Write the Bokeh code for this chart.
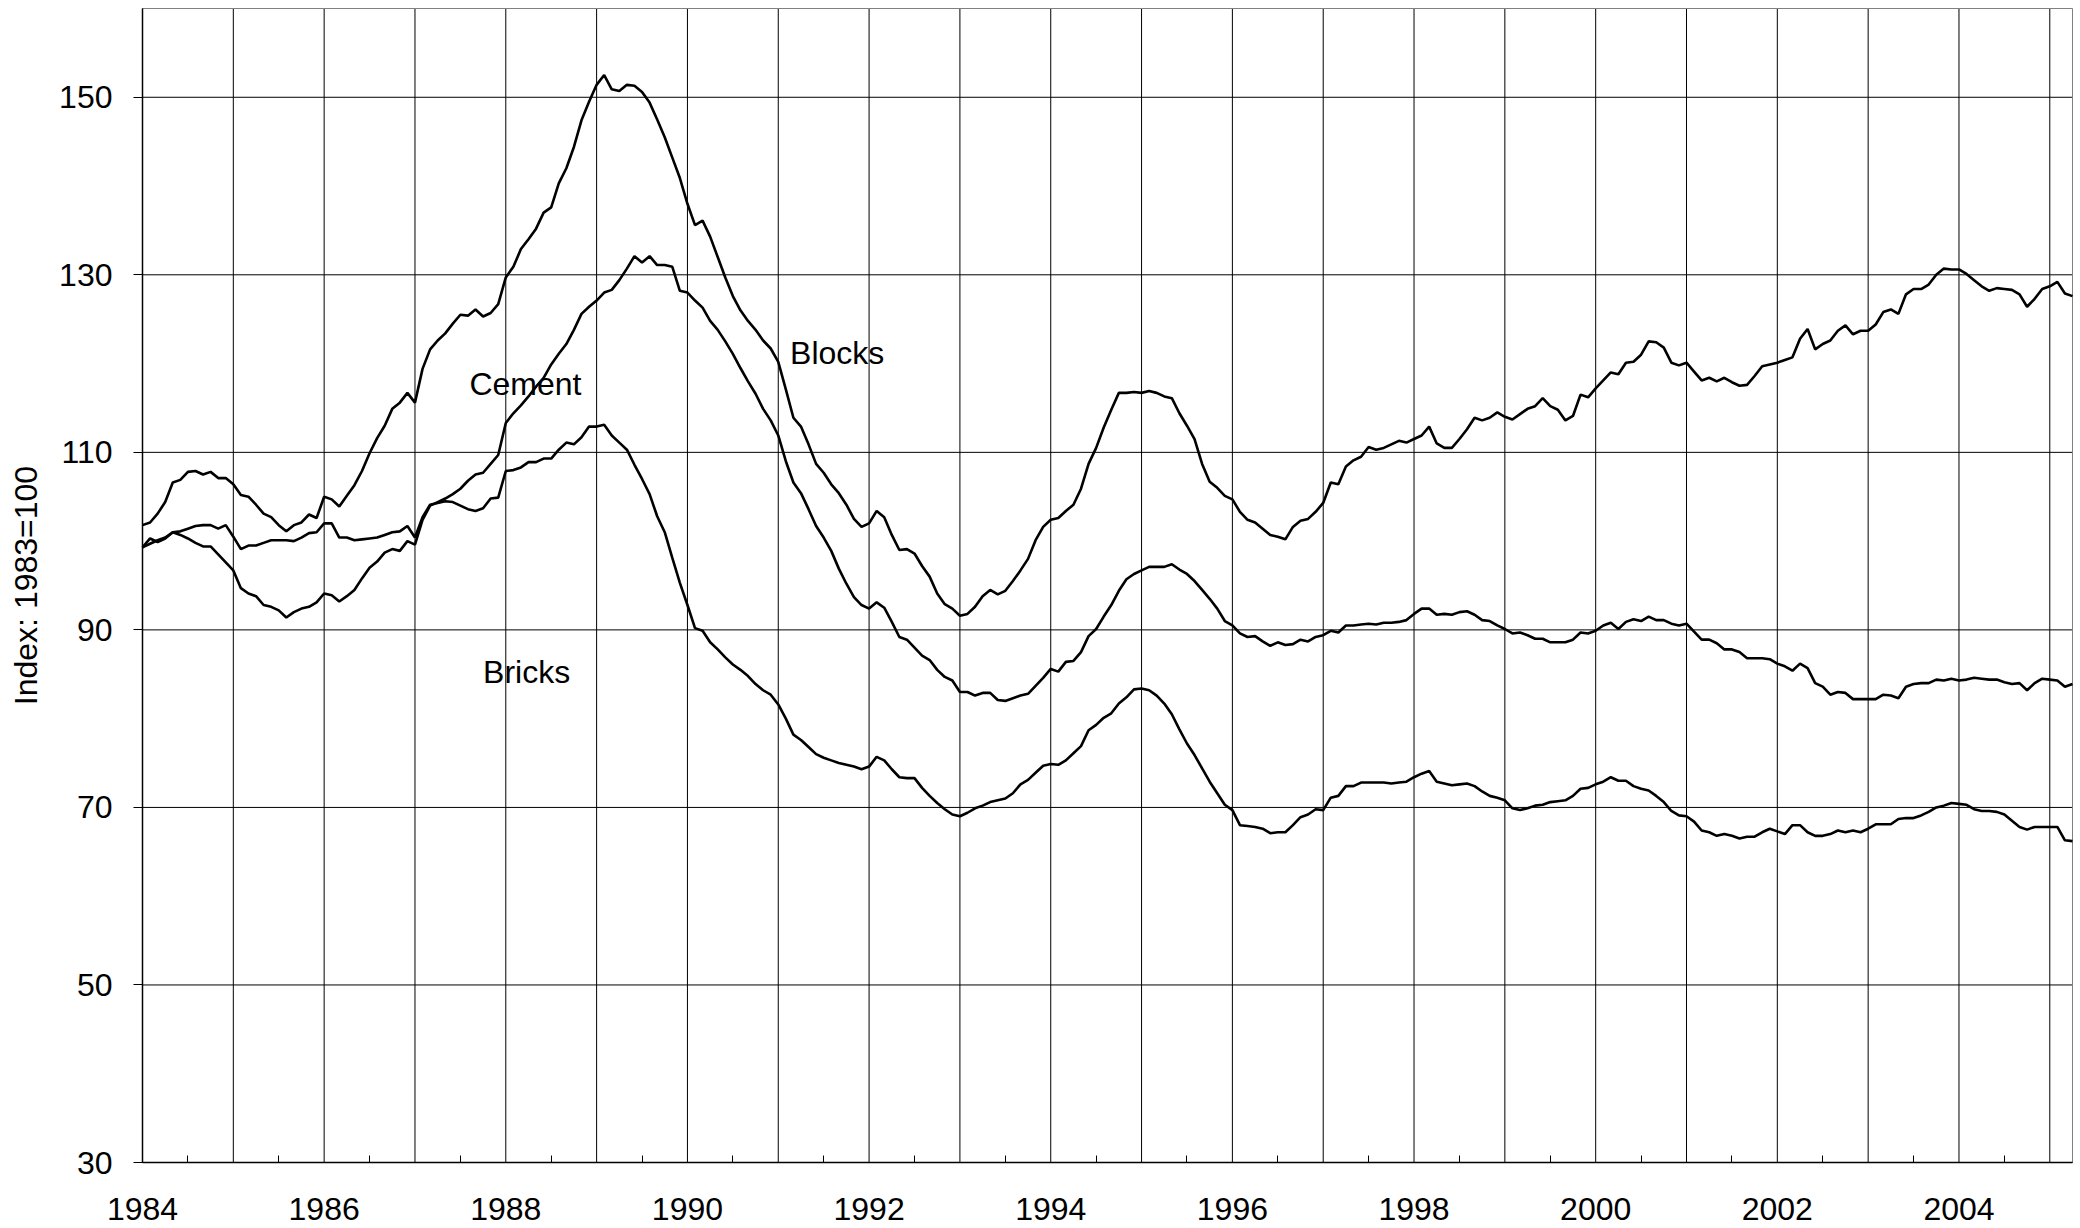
from bokeh.plotting import figure
from bokeh.models import FixedTicker, Range1d, Label
from bokeh.embed import file_html
from bokeh.resources import INLINE

# ---------------- data (monthly, Jan 1984 - Apr 2005) ----------------
start_year = 1984

blocks = [
    101.8, 102.1, 103.1, 104.4, 106.6, 106.9, 107.8, 107.9, 107.5, 107.8, 107.1, 107.1,
    106.4, 105.2, 105.0, 104.1, 103.1, 102.7, 101.8, 101.1, 101.8, 102.1, 103.0, 102.6,
    105.0, 104.7, 103.9, 105.1, 106.3, 107.9, 109.9, 111.6, 113.0, 114.9, 115.6, 116.7,
    115.6, 119.4, 121.6, 122.6, 123.4, 124.5, 125.5, 125.4, 126.1, 125.3, 125.7, 126.7,
    129.7, 130.9, 132.9, 134.0, 135.2, 137.0, 137.6, 140.3, 142.0, 144.4, 147.4, 149.5,
    151.4, 152.5, 150.9, 150.7, 151.4, 151.3, 150.6, 149.4, 147.5, 145.5, 143.2, 140.9,
    138.0, 135.6, 136.1, 134.3, 132.0, 129.7, 127.6, 126.0, 124.8, 123.8, 122.6, 121.7,
    120.2, 117.1, 113.9, 112.9, 110.9, 108.7, 107.7, 106.4, 105.4, 104.1, 102.5, 101.6,
    102.0, 103.4, 102.7, 100.7, 99.0, 99.1, 98.6, 97.2, 96.0, 94.1, 92.9, 92.4,
    91.6, 91.8, 92.6, 93.8, 94.5, 94.0, 94.4, 95.5, 96.7, 98.0, 100.1, 101.6,
    102.4, 102.6, 103.4, 104.1, 105.9, 108.7, 110.5, 112.8, 114.8, 116.7, 116.7, 116.8,
    116.7, 116.9, 116.7, 116.3, 116.1, 114.4, 113.0, 111.5, 108.7, 106.7, 106.0, 105.1,
    104.7, 103.3, 102.4, 102.1, 101.4, 100.7, 100.5, 100.2, 101.6, 102.3, 102.5, 103.3,
    104.3, 106.6, 106.4, 108.4, 109.1, 109.5, 110.6, 110.3, 110.5, 110.9, 111.3, 111.1,
    111.5, 111.9, 112.9, 111.0, 110.5, 110.5, 111.5, 112.6, 113.9, 113.6, 113.9, 114.5,
    114.0, 113.7, 114.3, 114.9, 115.2, 116.1, 115.2, 114.8, 113.6, 114.1, 116.5, 116.2,
    117.2, 118.1, 119.0, 118.8, 120.1, 120.2, 121.0, 122.5, 122.4, 121.8, 120.1, 119.8,
    120.1, 119.1, 118.1, 118.4, 118.0, 118.4, 117.9, 117.5, 117.6, 118.6, 119.7, 119.9,
    120.1, 120.4, 120.7, 122.8, 123.9, 121.6, 122.2, 122.6, 123.7, 124.3, 123.3, 123.7,
    123.7, 124.4, 125.8, 126.1, 125.6, 127.8, 128.4, 128.4, 128.9, 130.0, 130.7, 130.6,
    130.6, 130.1, 129.4, 128.7, 128.2, 128.5, 128.4, 128.3, 127.8, 126.4, 127.3, 128.4,
    128.7, 129.2, 127.9, 127.6,
]

cement = [
    99.3, 99.7, 100.1, 100.4, 101.0, 100.7, 100.3, 99.8, 99.4, 99.4, 98.5, 97.6,
    96.7, 94.7, 94.1, 93.8, 92.8, 92.6, 92.2, 91.4, 92.0, 92.4, 92.6, 93.1,
    94.1, 93.9, 93.2, 93.8, 94.5, 95.8, 97.0, 97.7, 98.7, 99.1, 98.9, 100.0,
    99.6, 102.4, 104.0, 104.4, 104.8, 105.3, 105.9, 106.8, 107.5, 107.7, 108.7, 109.7,
    113.3, 114.4, 115.3, 116.3, 117.4, 118.4, 119.9, 121.1, 122.2, 123.8, 125.6, 126.4,
    127.1, 128.0, 128.3, 129.4, 130.7, 132.1, 131.4, 132.1, 131.1, 131.1, 130.9, 128.2,
    128.0, 127.1, 126.3, 124.8, 123.8, 122.5, 121.1, 119.5, 118.0, 116.6, 114.9, 113.6,
    111.9, 109.0, 106.6, 105.4, 103.6, 101.7, 100.4, 98.9, 96.9, 95.2, 93.7, 92.8,
    92.4, 93.1, 92.5, 90.9, 89.2, 88.9, 88.0, 87.1, 86.6, 85.5, 84.7, 84.3,
    83.0, 83.0, 82.6, 82.9, 82.9, 82.1, 82.0, 82.3, 82.6, 82.8, 83.7, 84.6,
    85.6, 85.3, 86.4, 86.5, 87.5, 89.3, 90.1, 91.5, 92.8, 94.4, 95.7, 96.3,
    96.7, 97.1, 97.1, 97.1, 97.4, 96.8, 96.3, 95.5, 94.5, 93.5, 92.4, 91.0,
    90.5, 89.6, 89.2, 89.3, 88.7, 88.2, 88.6, 88.3, 88.4, 88.9, 88.7, 89.2,
    89.4, 89.9, 89.7, 90.5, 90.5, 90.6, 90.7, 90.6, 90.8, 90.8, 90.9, 91.1,
    91.8, 92.4, 92.4, 91.7, 91.8, 91.7, 92.0, 92.1, 91.7, 91.1, 91.0, 90.5,
    90.1, 89.6, 89.7, 89.4, 89.0, 89.0, 88.6, 88.6, 88.6, 88.9, 89.7, 89.6,
    89.9, 90.5, 90.8, 90.1, 90.9, 91.2, 91.0, 91.5, 91.1, 91.1, 90.7, 90.5,
    90.7, 89.8, 88.9, 88.9, 88.5, 87.8, 87.8, 87.5, 86.8, 86.8, 86.8, 86.7,
    86.2, 85.9, 85.4, 86.2, 85.7, 84.0, 83.6, 82.7, 83.0, 82.9, 82.2, 82.2,
    82.2, 82.2, 82.7, 82.6, 82.3, 83.6, 83.9, 84.0, 84.0, 84.4, 84.3, 84.5,
    84.3, 84.4, 84.6, 84.5, 84.4, 84.4, 84.1, 83.9, 84.0, 83.2, 84.0, 84.5,
    84.4, 84.3, 83.6, 83.9,
]

bricks = [
    99.3, 100.3, 99.9, 100.3, 101.0, 101.1, 101.4, 101.7, 101.8, 101.8, 101.4, 101.8,
    100.5, 99.1, 99.5, 99.5, 99.8, 100.1, 100.1, 100.1, 100.0, 100.4, 100.9, 101.0,
    102.0, 102.0, 100.4, 100.4, 100.1, 100.2, 100.3, 100.4, 100.7, 101.0, 101.1, 101.7,
    100.4, 102.7, 104.1, 104.3, 104.5, 104.4, 104.0, 103.6, 103.4, 103.7, 104.8, 104.9,
    107.9, 108.0, 108.3, 108.9, 108.9, 109.3, 109.3, 110.3, 111.1, 110.9, 111.7, 112.9,
    112.9, 113.1, 111.9, 111.1, 110.3, 108.6, 107.0, 105.3, 102.8, 101.0, 98.1, 95.3,
    92.8, 90.2, 89.9, 88.6, 87.8, 86.9, 86.1, 85.5, 84.8, 83.9, 83.2, 82.7,
    81.6, 80.0, 78.2, 77.6, 76.8, 76.0, 75.6, 75.3, 75.0, 74.8, 74.6, 74.3,
    74.6, 75.7, 75.3, 74.3, 73.4, 73.3, 73.3, 72.2, 71.3, 70.5, 69.8, 69.2,
    69.0, 69.4, 69.9, 70.2, 70.6, 70.8, 71.0, 71.6, 72.6, 73.1, 73.9, 74.7,
    74.9, 74.8, 75.3, 76.1, 76.9, 78.7, 79.3, 80.1, 80.6, 81.7, 82.4, 83.3,
    83.4, 83.2, 82.6, 81.7, 80.5, 78.8, 77.2, 75.9, 74.4, 72.9, 71.6, 70.3,
    69.7, 68.0, 67.9, 67.8, 67.6, 67.1, 67.2, 67.2, 68.0, 68.9, 69.2, 69.8,
    69.7, 71.1, 71.3, 72.4, 72.4, 72.8, 72.8, 72.8, 72.8, 72.7, 72.8, 72.9,
    73.4, 73.8, 74.1, 72.9, 72.7, 72.5, 72.6, 72.7, 72.4, 71.8, 71.3, 71.1,
    70.8, 69.9, 69.7, 69.9, 70.2, 70.3, 70.6, 70.7, 70.8, 71.3, 72.1, 72.2,
    72.6, 72.9, 73.4, 73.0, 73.0, 72.4, 72.1, 71.9, 71.3, 70.6, 69.6, 69.1,
    69.0, 68.4, 67.4, 67.2, 66.8, 67.0, 66.8, 66.5, 66.7, 66.7, 67.2, 67.6,
    67.3, 67.0, 68.0, 68.0, 67.2, 66.8, 66.8, 67.0, 67.4, 67.2, 67.4, 67.2,
    67.6, 68.1, 68.1, 68.1, 68.7, 68.8, 68.8, 69.1, 69.5, 70.0, 70.2, 70.5,
    70.4, 70.3, 69.8, 69.6, 69.6, 69.5, 69.2, 68.5, 67.8, 67.5, 67.8, 67.8,
    67.8, 67.8, 66.3, 66.2,
]

months = [start_year + i / 12 for i in range(len(blocks))]

label_years = [1984, 1986, 1988, 1990, 1992, 1994, 1996, 1998, 2000, 2002, 2004]
grid_years = list(range(1984, 2006))
half_years = [y + 0.5 for y in range(1984, 2005)]
y_ticks = [30, 50, 70, 90, 110, 130, 150]
y_axis_title = "Index: 1983=100"

series_labels = [("Blocks", 1991.13, 121.2), ("Cement", 1987.6, 117.7), ("Bricks", 1987.75, 85.3)]

# ---------------- layout (plot area placed in canvas pixels) ----------------
X_MIN, X_MAX = 1984, 2005.25
Y_MIN, Y_MAX = 30, 160
W, H = 2078, 1226
LEFT_PX, RIGHT_PX, TOP_PX, BOTTOM_PX = 142, 2072, 8, 1162
xppu = (RIGHT_PX - LEFT_PX) / (X_MAX - X_MIN)
yppu = (BOTTOM_PX - TOP_PX) / (Y_MAX - Y_MIN)
x_range = Range1d(X_MIN - LEFT_PX / xppu, X_MAX + (W - RIGHT_PX) / xppu)
y_range = Range1d(Y_MIN - (H - BOTTOM_PX) / yppu, Y_MAX + TOP_PX / yppu)

FONT = "Liberation Sans"
TICK_FS = "32px"
LABEL_FS = "32px"

p = figure(width=W, height=H, output_backend="svg", toolbar_location=None,
           x_range=x_range, y_range=y_range,
           min_border_left=0, min_border_right=0, min_border_top=0, min_border_bottom=0)
p.outline_line_color = None
p.background_fill_color = "white"
p.border_fill_color = "white"
p.xgrid.visible = False
p.ygrid.visible = False

# horizontal grid lines
p.segment(x0=[X_MIN] * len(y_ticks), y0=y_ticks, x1=[X_MAX] * len(y_ticks), y1=y_ticks,
          line_color="#000000", line_width=1)
# vertical grid lines (one per year)
p.segment(x0=grid_years, y0=[Y_MIN] * len(grid_years), x1=grid_years, y1=[Y_MAX] * len(grid_years),
          line_color="#000000", line_width=1)
# plot-area border (top / right)
p.segment(x0=[X_MIN, X_MAX], y0=[Y_MAX, Y_MIN], x1=[X_MAX, X_MAX], y1=[Y_MAX, Y_MAX],
          line_color="#808080", line_width=1)

for ser in (blocks, cement, bricks):
    p.line(months, ser, line_color="black", line_width=2.6)

for txt, lx, ly in series_labels:
    p.add_layout(Label(x=lx, y=ly, text=txt, text_font=FONT, text_font_size=LABEL_FS,
                       text_color="black", text_baseline="middle", text_align="left"))

# x axis
xa = p.xaxis[0]
xa.fixed_location = Y_MIN
xa.bounds = (X_MIN, X_MAX)
xa.ticker = FixedTicker(ticks=label_years, minor_ticks=half_years)
xa.axis_line_color = "black"
xa.axis_line_width = 1.5
xa.major_tick_in = 0
xa.major_tick_out = 0
xa.minor_tick_in = 7
xa.minor_tick_out = 0
xa.minor_tick_line_color = "black"
xa.major_label_standoff = 35
xa.major_label_text_font = FONT
xa.major_label_text_font_size = TICK_FS
xa.major_label_text_color = "black"

# y axis
ya = p.yaxis[0]
ya.fixed_location = X_MIN
ya.bounds = (Y_MIN, Y_MAX)
ya.ticker = FixedTicker(ticks=y_ticks, minor_ticks=[])
ya.axis_line_color = "black"
ya.axis_line_width = 1.5
ya.major_tick_in = 0
ya.major_tick_out = 9
ya.major_tick_line_color = "black"
ya.minor_tick_in = 0
ya.minor_tick_out = 0
ya.major_label_standoff = 21
ya.major_label_text_font = FONT
ya.major_label_text_font_size = TICK_FS
ya.major_label_text_color = "black"
ya.axis_label = y_axis_title
ya.axis_label_text_font = FONT
ya.axis_label_text_font_size = "32px"
ya.axis_label_text_font_style = "normal"
ya.axis_label_text_color = "black"
ya.axis_label_standoff = 12

open("out.html", "w").write(file_html(p, INLINE))
